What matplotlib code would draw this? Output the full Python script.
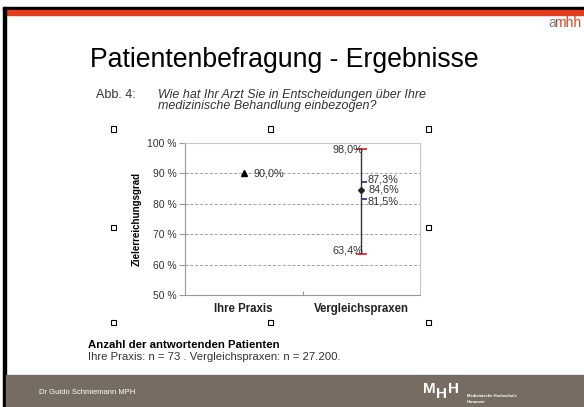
import matplotlib
matplotlib.use("Agg")
import matplotlib.pyplot as plt
from matplotlib.patches import Rectangle

# Daten
categories = ["Ihre Praxis", "Vergleichspraxen"]
praxis_wert = 90.0
vergleich_max = 98.0
vergleich_q3 = 87.3
vergleich_mittel = 84.6
vergleich_q1 = 81.5
vergleich_min = 63.4
yticks = [50, 60, 70, 80, 90, 100]
ytick_labels = ["50 %", "60 %", "70 %", "80 %", "90 %", "100 %"]

W, H = 584, 407
plt.rcParams["font.family"] = ["Liberation Sans", "DejaVu Sans"]

fig = plt.figure(figsize=(W / 100, H / 100), dpi=100)
fig.patch.set_facecolor("white")


def fx(x):
    return x / W


def fy(y):
    return 1 - y / H


# Folienrahmen
fig.patches.append(Rectangle((fx(3), fy(10)), fx(581), 3 / H, transform=fig.transFigure,
                             color="black", zorder=0))
fig.patches.append(Rectangle((fx(6), fy(15)), fx(578), 5 / H, transform=fig.transFigure,
                             color="#e63c1e", zorder=0))
fig.patches.append(Rectangle((fx(3), 0), 3 / W, fy(7), transform=fig.transFigure,
                             color="black", zorder=0))
fig.patches.append(Rectangle((fx(6), 0), fx(578), 32 / H, transform=fig.transFigure,
                             color="#776c62", zorder=0))

fig.text(fx(548), fy(23), "a", color="#7f7f7f", fontsize=10, va="center")
fig.text(fx(554.5), fy(23), "mhh", color="#d8452a", fontsize=10, va="center")

fig.text(fx(90), fy(60), "Patientenbefragung - Ergebnisse", fontsize=19.2, va="center")

fig.text(fx(96), fy(95), "Abb. 4:", fontsize=9, color="#333333", va="center")
fig.text(fx(158), fy(95), "Wie hat Ihr Arzt Sie in Entscheidungen über Ihre",
         fontsize=9, style="italic", color="#333333", va="center")
fig.text(fx(158), fy(106), "medizinische Behandlung einbezogen?",
         fontsize=9, style="italic", color="#333333", va="center")

# Markierungsquadrate
for (hx, hy) in [(113, 129), (270, 129), (428, 129), (113, 227), (428, 227),
                 (113, 322), (270, 322), (428, 322)]:
    fig.patches.append(Rectangle((fx(hx - 2.5), fy(hy + 2.5)), 5 / W, 5 / H,
                                 transform=fig.transFigure, facecolor="white",
                                 edgecolor="black", lw=0.8, zorder=1))

ax = fig.add_axes([fx(185), fy(295), 235 / W, 152 / H])
ax.set_xlim(-0.5, 1.5)
ax.set_ylim(50, 100)

for s in ax.spines.values():
    s.set_color("#c8c8c8")
    s.set_linewidth(0.8)
ax.spines["left"].set_color("#999999")
ax.spines["bottom"].set_color("#999999")

ax.set_yticks(yticks)
ax.set_yticklabels(ytick_labels, fontsize=7.5, color="#333333")
ax.tick_params(axis="y", length=4, color="#999999", pad=2)
ax.set_xticks([0.5], minor=False)
ax.set_xticklabels([""])
ax.tick_params(axis="x", length=3, color="#999999", direction="in")
for i, c in enumerate(categories):
    ax.text(i, -0.09, c, transform=ax.get_xaxis_transform(), ha="center", va="center",
            fontsize=8.3, fontweight="bold", color="#222222")

for g in yticks[1:-1]:
    ax.axhline(g, color="#a0a0a0", lw=0.7, ls=(0, (3, 2)), zorder=1)

ax.set_ylabel("Zielerreichungsgrad", fontsize=7, fontweight="bold", labelpad=4)

# Ihre Praxis
ax.plot([0], [praxis_wert], marker="^", color="black", markersize=5, zorder=3)
ax.text(0.08, praxis_wert, "90,0%", fontsize=7.8, color="#333333", va="center")

# Vergleichspraxen
ax.vlines(1, vergleich_min, vergleich_max, color="#333344", lw=1, zorder=2)
ax.hlines([vergleich_max, vergleich_min], 1 - 0.045, 1 + 0.045, color="#e8141e", lw=1.2, zorder=3)
ax.hlines([vergleich_q3, vergleich_q1], 1.005, 1.05, color="#1f2a7a", lw=1.2, zorder=3)
ax.plot([1], [vergleich_mittel], marker="D", color="#222222", markersize=3, zorder=4)
ax.text(1.02, vergleich_max, "98,0%", fontsize=7.8, color="#333333", va="center", ha="right")
ax.text(1.02, vergleich_min + 1.3, "63,4%", fontsize=7.8, color="#333333", va="center", ha="right")
ax.text(1.055, vergleich_q3 + 0.6, "87,3%", fontsize=7.8, color="#333333", va="center")
ax.text(1.065, vergleich_mittel + 0.1, "84,6%", fontsize=7.8, color="#333333", va="center")
ax.text(1.055, vergleich_q1 - 0.6, "81,5%", fontsize=7.8, color="#333333", va="center")

fig.text(fx(88), fy(345), "Anzahl der antwortenden Patienten", fontsize=8.2,
         fontweight="bold", va="center")
fig.text(fx(88), fy(357), "Ihre Praxis: n = 73 . Vergleichspraxen: n = 27.200.",
         fontsize=8.2, color="#333333", va="center")

fig.text(fx(39), fy(393), "Dr Guido Schmiemann MPH", fontsize=5.5, color="white", va="center")
fig.text(fx(423), fy(389), "M", fontsize=11, color="white", va="center", fontweight="bold")
fig.text(fx(436), fy(394), "H", fontsize=11, color="white", va="center", fontweight="bold")
fig.text(fx(448), fy(389), "H", fontsize=11, color="white", va="center", fontweight="bold")
fig.text(fx(467), fy(396), "Medizinische Hochschule", fontsize=3, color="white",
         va="center", fontweight="bold")
fig.text(fx(467), fy(402), "Hannover", fontsize=3, color="white", va="center", fontweight="bold")

fig.savefig("out.png", dpi=100)
